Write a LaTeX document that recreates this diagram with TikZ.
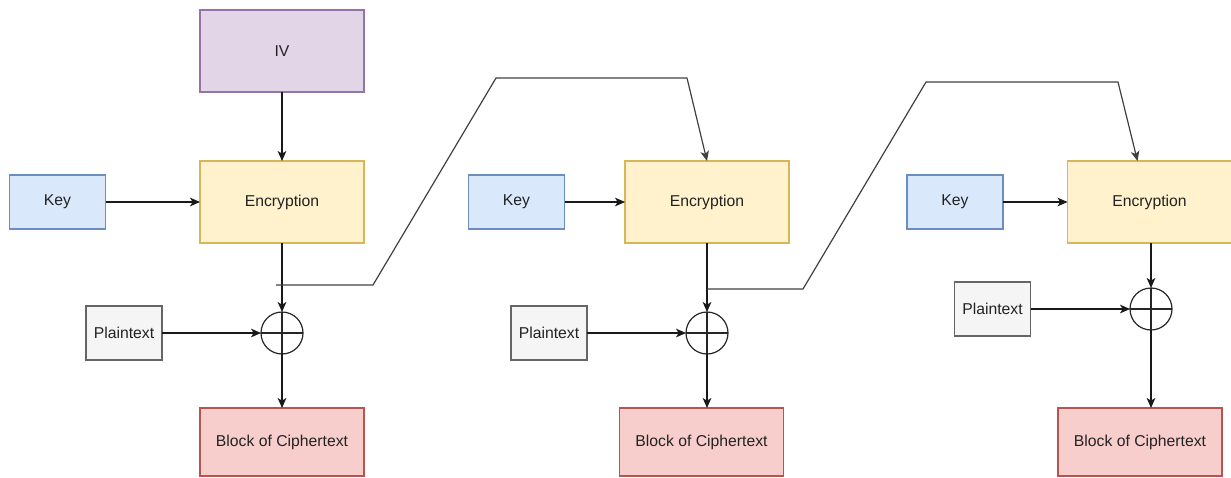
\documentclass[tikz,border=0pt]{standalone}
\usepackage{fontspec}
\setmainfont{Liberation Sans}
\usetikzlibrary{shapes,arrows.meta}

\definecolor{ivfill}{HTML}{E1D5E7}
\definecolor{ivdraw}{HTML}{9673A6}
\definecolor{keyfill}{HTML}{DAE8FC}
\definecolor{keydraw}{HTML}{6C8EBF}
\definecolor{encfill}{HTML}{FFF2CC}
\definecolor{encdraw}{HTML}{D6B656}
\definecolor{ptfill}{HTML}{F5F5F5}
\definecolor{ptdraw}{HTML}{666666}
\definecolor{ctfill}{HTML}{F8CECC}
\definecolor{ctdraw}{HTML}{B85450}
\definecolor{txt}{HTML}{222222}

\begin{document}
\begin{tikzpicture}[x=0.75pt,y=-0.75pt,
    base/.style ={rectangle, line width=0.8pt, inner sep=0pt, outer sep=0pt,
      text=txt, font=\fontsize{11.8}{14}\selectfont},
    block_iv/.style ={base, draw=ivdraw, fill=ivfill,
      minimum width=123pt, minimum height=61.5pt},
    block_enc/.style ={base, draw=encdraw, fill=encfill,
      minimum width=123pt, minimum height=61.5pt},
    block_key/.style ={base, draw=keydraw, fill=keyfill,
      minimum width=72pt, minimum height=40.5pt},
    block_plain/.style ={base, draw=ptdraw, fill=ptfill,
      minimum width=57pt, minimum height=40.5pt},
    block_cipher/.style ={base, draw=ctdraw, fill=ctfill,
      minimum width=123pt, minimum height=51pt},
    xor/.style ={circle, draw=black!85, line width=0.9pt, fill=white,
      minimum size=31.5pt, inner sep=0pt, outer sep=0pt,
      path picture={
        \draw[black!85, line width=0.9pt]
          (path picture bounding box.north) -- (path picture bounding box.south)
          (path picture bounding box.west) -- (path picture bounding box.east);}},
    line/.style ={draw=black!90, line width=0.9pt,
      -{Stealth[length=7.5pt,width=6.5pt,inset=2pt]}},
    feed/.style ={draw=black!75, line width=0.9pt, line join=round,
      -{Stealth[length=7.5pt,width=6.5pt,inset=2pt]}}]
    \useasboundingbox (0,0) rectangle (1231,478);

    % first stage
    \node[block_iv] (iv) at (282,51) {IV};
    \node[block_enc] (enc1) at (282,202) {Encryption};
    \node[block_key] (key1) at (57.5,202) {Key};
    \node[xor] (xor1) at (282,333) {};
    \node[block_plain] (pt1) at (124,333) {Plaintext};
    \node[block_cipher] (ct1) at (282,442) {Block of Ciphertext};

    % second stage
    \node[block_enc] (enc2) at (707,202) {Encryption};
    \node[block_key] (key2) at (516.5,202) {Key};
    \node[xor] (xor2) at (707,333) {};
    \node[block_plain] (pt2) at (549,333) {Plaintext};
    \node[block_cipher] (ct2) at (701.5,442) {Block of Ciphertext};

    % third stage
    \node[block_enc] (enc3) at (1149.5,202) {Encryption};
    \node[block_key] (key3) at (955,202) {Key};
    \node[xor] (xor3) at (1151,309) {};
    \node[block_plain] (pt3) at (992.5,309) {Plaintext};
    \node[block_cipher] (ct3) at (1140,442) {Block of Ciphertext};

    % connectors
    \path[line] (iv) -- (enc1);
    \path[line] (key1) -- (enc1);
    \path[line] (enc1) -- (xor1);
    \path[line] (pt1) -- (xor1);
    \path[line] (xor1) -- (xor1 |- ct1.north);

    \path[line] (key2) -- (enc2);
    \path[line] (enc2) -- (xor2);
    \path[line] (pt2) -- (xor2);
    \path[line] (xor2) -- (xor2 |- ct2.north);

    \path[line] (key3) -- (enc3);
    \path[line] (enc3.south -| xor3) -- (xor3);
    \path[line] (pt3) -- (xor3);
    \path[line] (xor3) -- (xor3 |- ct3.north);

    % chaining of the cipher output
    \coordinate (tap1) at (276,285);
    \coordinate (tap2) at (707,289);
    \path[feed] (tap1) -- (373,285) -- (496,78) -- (687,78) -- (enc2.north);
    \path[feed] (tap2) -- (803,289) -- (926,82) -- (1118,82) -- ([xshift=-9pt]enc3.north);
\end{tikzpicture}
\end{document}
